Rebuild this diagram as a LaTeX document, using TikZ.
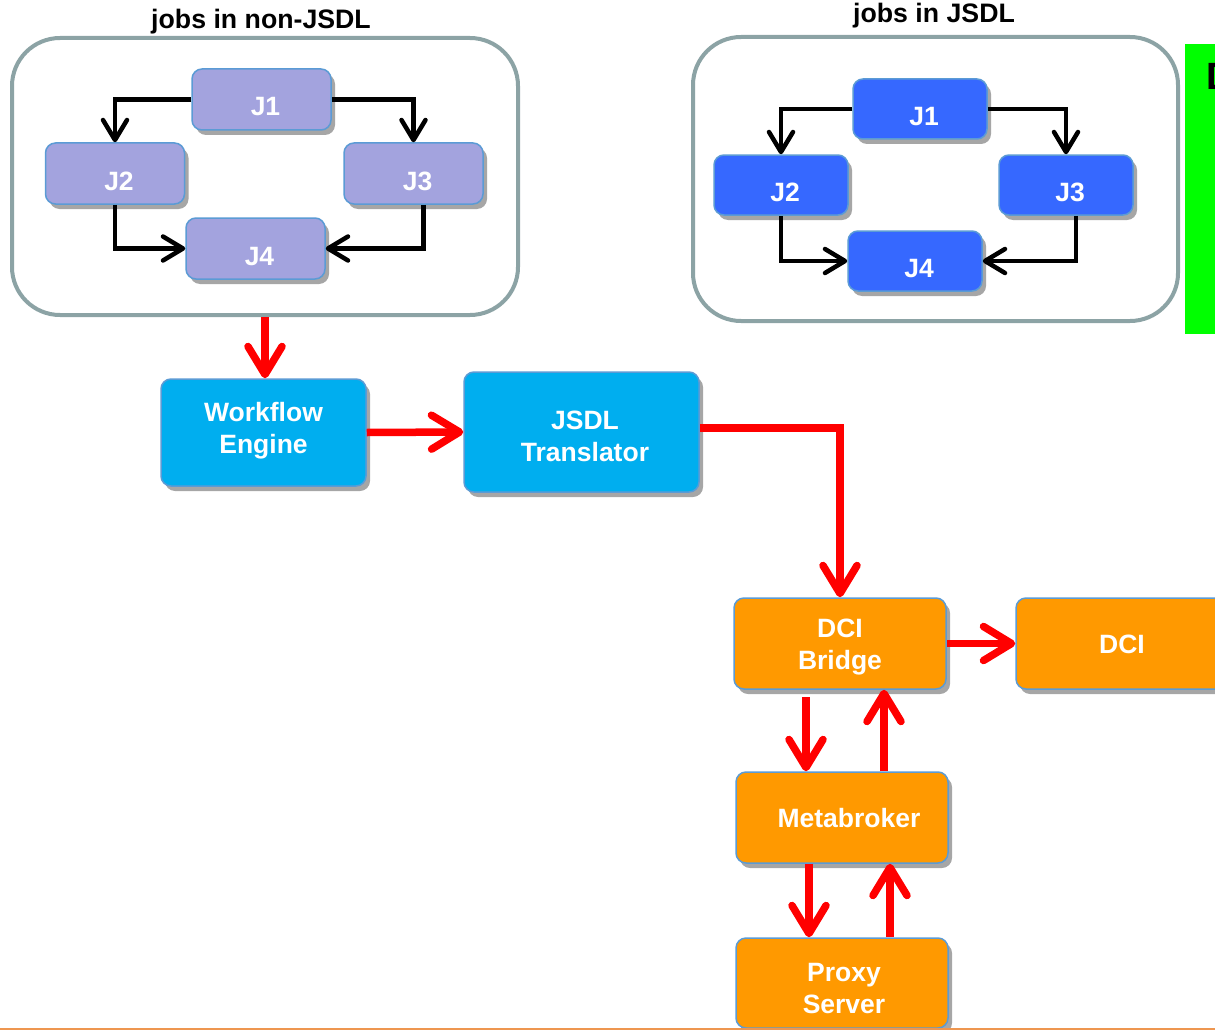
\documentclass[tikz,border=0pt]{standalone}
\usepackage{fontspec}
\setmainfont{Liberation Sans}
\usetikzlibrary{arrows.meta,shadows}

\definecolor{frameteal}{RGB}{140,163,165}
\definecolor{jlilac}{RGB}{163,163,222}
\definecolor{jblue}{RGB}{54,104,255}
\definecolor{wfcyan}{RGB}{0,174,239}
\definecolor{dciorange}{RGB}{255,153,0}
\definecolor{edgeblue}{RGB}{91,155,213}
\definecolor{flowred}{RGB}{255,0,0}
\definecolor{rulebrown}{RGB}{238,150,80}
\definecolor{notegreen}{RGB}{0,255,0}

\tikzset{
  box/.style={rounded corners=10pt, draw=edgeblue, line width=1.5pt,
    text=white, align=center, inner sep=0pt,
    font=\fontsize{26.5}{32}\selectfont\bfseries,
    drop shadow={shadow xshift=4pt, shadow yshift=-5pt, fill=black!35, opacity=1}},
  % vertical placement of the label: last baseline sits #1/2 below the centre
  lift/.style={text height=#1, text depth=0pt},
  jnode/.style={box, lift=33pt, execute at begin node=\hspace*{8pt}},
  jlil/.style={jnode, fill=jlilac, minimum width=139pt, minimum height=61pt},
  jblu/.style={jnode, fill=jblue, minimum width=134pt, minimum height=60pt},
  cyanbox/.style={box, fill=wfcyan},
  orangebox/.style={box, fill=dciorange, minimum width=212pt, minimum height=91pt},
  frame/.style={draw=frameteal, line width=4pt, rounded corners=48pt, fill=white},
  title/.style={font=\fontsize{26.7}{30}\selectfont\bfseries, text=black},
  dep/.style={draw=black, line width=4.5pt,
    -{Straight Barb[length=20pt,width=24pt,round]}},
  flow/.style={draw=flowred, line width=7.5pt,
    -{Straight Barb[length=28pt,width=34pt,round]}}
}

\begin{document}
\begin{tikzpicture}[x=1pt,y=-1pt]
\useasboundingbox (0,0) rectangle (1215,1030);

% ---- workflow in its own language ----
\node[title] (t1) at (261,22) {jobs in non-JSDL};
\node[frame, minimum width=506pt, minimum height=277pt] (wf1) at (265,176.5) {};
\node[jlil] (a1) at (261.5,99.5) {J1};
\node[jlil] (a2) at (115,173.5) {J2};
\node[jlil] (a3) at (413.5,173.5) {J3};
\node[jlil] (a4) at (255.5,248.5) {J4};
\draw[dep] (a1.west) -| (a2.north);
\draw[dep] (a1.east) -| (a3.north);
\draw[dep] (a2.south) |- (a4.west);
\draw[dep] ([xshift=10pt]a3.south) |- (a4.east);

% ---- the same workflow in JSDL ----
\node[title] (t2) at (934,16) {jobs in JSDL};
\node[frame, minimum width=485pt, minimum height=284pt] (wf2) at (935.5,179) {};
\node[jblu] (b1) at (920,109) {J1};
\node[jblu] (b2) at (781,185) {J2};
\node[jblu] (b3) at (1066,185) {J3};
\node[jblu] (b4) at (915,261) {J4};
\draw[dep] (b1.west) -| (b2.north);
\draw[dep] (b1.east) -| (b3.north);
\draw[dep] (b2.south) |- (b4.west);
\draw[dep] ([xshift=10pt]b3.south) |- (b4.east);

% ---- side note ----
\fill[notegreen] (1185,44) rectangle (1240,334);
\node[anchor=west, inner sep=0pt, font=\fontsize{38}{44}\selectfont\bfseries] (note) at (1206,76) {D};

% ---- processing chain ----
\node[cyanbox, lift=42pt, minimum width=205pt, minimum height=107pt] (we) at (263.5,432.5) {Workflow\\Engine};
\node[cyanbox, lift=59pt, minimum width=235pt, minimum height=120pt] (jt) at (581.5,432) {\hspace*{7pt}JSDL\\\hspace*{7pt}Translator};
\node[orangebox, lift=52pt] (db) at (840,643.5) {DCI\\Bridge};
\node[orangebox, lift=20pt] (dci) at (1122,643.5) {DCI};
\node[orangebox, lift=20pt] (mb) at (842,817.5) {\hspace*{14pt}Metabroker};
\node[orangebox, lift=61pt, minimum height=90pt] (ps) at (842,983) {\hspace*{4pt}Proxy\\\hspace*{4pt}Server};

\coordinate (c0) at (265,0);
\draw[flow] (c0 |- wf1.south) -- (c0 |- we.north);
\draw[flow] (we.east) -- (jt.west);
\draw[flow] ([yshift=4pt]jt.east) -| (db.north);
\draw[flow] (db.east) -- (dci.west);

\coordinate (d1) at (806,697);
\coordinate (u1) at (884,0);
\coordinate (d2) at (809,0);
\coordinate (u2) at (890,0);
\draw[flow] (d1) -- (d1 |- mb.north);
\draw[flow] (u1 |- mb.north) -- (u1 |- db.south);
\draw[flow] (d2 |- mb.south) -- (d2 |- ps.north);
\draw[flow] (u2 |- ps.north) -- (u2 |- mb.south);

% ---- bottom rule ----
\draw[rulebrown, line width=2pt] (0,1028.5) -- (1215,1028.5);
\end{tikzpicture}
\end{document}
